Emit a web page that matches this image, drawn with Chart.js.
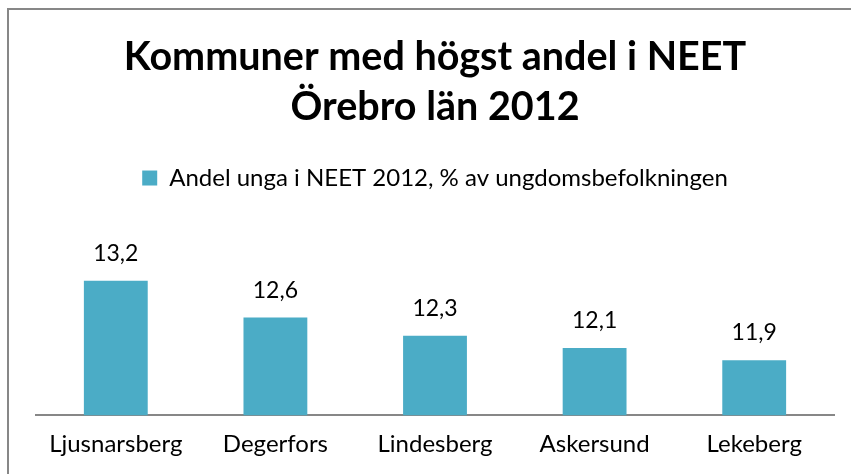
<!DOCTYPE html>
<html><head><meta charset="utf-8">
<script src="https://cdn.jsdelivr.net/npm/chart.js@4.4.0/dist/chart.umd.min.js"></script>
<style>
html,body{margin:0;padding:0;background:#fff;}
#wrap{position:relative;width:851px;height:474px;overflow:hidden;}
#frame{position:absolute;left:7px;top:8px;width:900px;height:500px;border-left:2px solid #878787;border-top:2px solid #878787;box-sizing:border-box;}
canvas{position:absolute;left:0;top:0;}
</style></head>
<body><div id="wrap"><div id="frame"></div><canvas id="c" width="851" height="474"></canvas></div>
<script>
const categories = ["Ljusnarsberg","Degerfors","Lindesberg","Askersund","Lekeberg"];
const values = [13.2, 12.6, 12.3, 12.1, 11.9];
const seriesName = "Andel unga i NEET 2012, % av ungdomsbefolkningen";
const titleLines = ["Kommuner med högst andel i NEET","Örebro län 2012"];
const FONT = "Lato, 'Open Sans', sans-serif";

const labelPlugin = {
  id:'barLabels',
  afterDatasetsDraw(chart){
    const ctx = chart.ctx;
    const meta = chart.getDatasetMeta(0);
    ctx.save();
    ctx.font = "23px " + FONT;
    ctx.fillStyle = "#000";
    ctx.textAlign = "center";
    ctx.textBaseline = "alphabetic";
    meta.data.forEach((bar,i)=>{
      const v = chart.data.datasets[0].data[i];
      ctx.fillText(v.toFixed(1).replace('.',','), bar.x, bar.y - 20);
    });
    ctx.restore();
  }
};

const legendGap = {
  id:'legendGap',
  beforeInit(chart){
    const fit = chart.legend.fit;
    chart.legend.fit = function(){ fit.bind(chart.legend)(); this.height += 32; };
  }
};

new Chart(document.getElementById('c'), {
  type:'bar',
  data:{labels:categories, datasets:[{label:seriesName, data:values, backgroundColor:'#4BACC6', borderWidth:0, categoryPercentage:1.0, barPercentage:0.4}]},
  options:{
    responsive:false, animation:false,
    layout:{padding:{left:36,right:17,top:32,bottom:0}},
    plugins:{
      title:{display:true, text:titleLines, color:'#000', font:{family:FONT, size:39.5, weight:'bold', lineHeight:1.266}, padding:{top:0,bottom:24}},
      legend:{display:true, labels:{color:'#000', font:{family:FONT,size:24}, boxWidth:15, boxHeight:15, padding:10}},
      tooltip:{enabled:false}
    },
    scales:{
      x:{grid:{display:false, drawTicks:false}, border:{display:true,color:'#878787',width:2}, ticks:{color:'#000', font:{family:FONT,size:24}, padding:15}},
      y:{display:false, min:11, max:14}
    }
  },
  plugins:[labelPlugin, legendGap]
});
</script></body></html>
